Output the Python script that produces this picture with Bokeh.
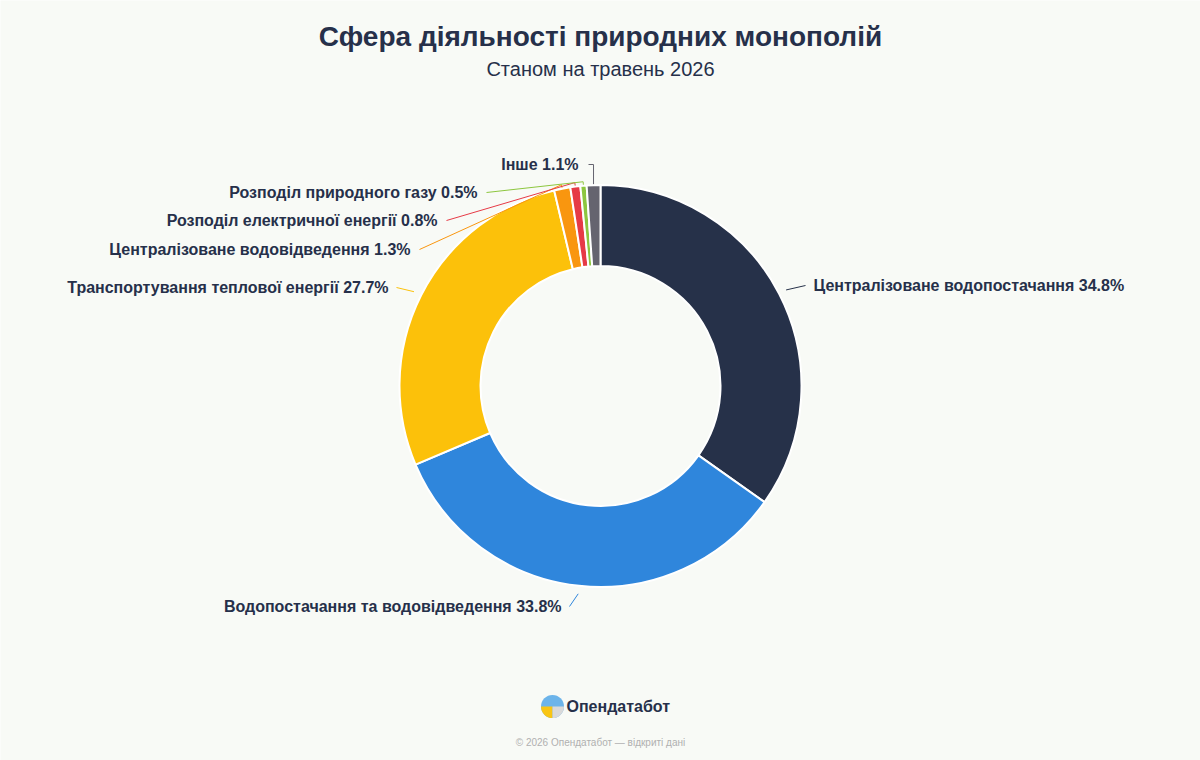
import math
from bokeh.plotting import figure
from bokeh.models import Range1d, ColumnDataSource
from bokeh.core.properties import value
from bokeh.embed import file_html
from bokeh.resources import INLINE

# ---- data ----
categories = [
    "Централізоване водопостачання",
    "Водопостачання та водовідведення",
    "Транспортування теплової енергії",
    "Централізоване водовідведення",
    "Розподіл електричної енергії",
    "Розподіл природного газу",
    "Інше",
]
shares = [34.8, 33.8, 27.7, 1.3, 0.8, 0.5, 1.1]
colors = ["#263149", "#2f86dc", "#fcc10a", "#f9960f", "#e63a46", "#8dc63f", "#65646f"]

title_text = "Сфера діяльності природних монополій"
subtitle_text = "Станом на травень 2026"
brand_text = "Опендатабот"
footer_text = "© 2026 Опендатабот — відкриті дані"

# ---- layout (pixel coordinates, top-left origin) ----
W, H = 1200, 760
CX, CY = 600, 385.5
R_OUT, R_IN = 201, 120
BG = "#f8faf6"
TEXT = "#26304a"
FONT = "Liberation Sans"

# label anchor positions and side (-1 = text to the left of the connector)
label_pos = [
    (813, 285, 1),
    (561, 606, -1),
    (388, 287, -1),
    (410, 249, -1),
    (437, 220, -1),
    (477, 192, -1),
    (578, 164, -1),
]


def Y(py):
    return H - py


p = figure(width=W, height=H, output_backend="svg", toolbar_location=None,
           x_range=Range1d(0, W), y_range=Range1d(0, H),
           x_axis_location=None, y_axis_location=None, min_border=0)
p.grid.visible = False
p.outline_line_color = None
p.background_fill_color = BG
p.border_fill_color = BG

# ---- donut ----
total = sum(shares)
starts, ends, mids = [], [], []
cum = 0.0
for v in shares:
    a0 = math.pi / 2 - 2 * math.pi * cum / total
    a1 = math.pi / 2 - 2 * math.pi * (cum + v) / total
    starts.append(a0)
    ends.append(a1)
    mids.append((a0 + a1) / 2)
    cum += v

src = ColumnDataSource(dict(x=[CX] * len(shares), y=[Y(CY)] * len(shares),
                            start=starts, end=ends, color=colors))
p.annular_wedge(x="x", y="y", inner_radius=R_IN, outer_radius=R_OUT,
                start_angle="start", end_angle="end", direction="clock",
                fill_color="color", line_color="#ffffff", line_width=2, source=src)

# ---- labels and connectors ----
for i, (cat, v) in enumerate(zip(categories, shares)):
    lx, ly, side = label_pos[i]
    m = mids[i]
    ax = CX + (R_OUT + 1) * math.cos(m)
    ay = CY - (R_OUT + 1) * math.sin(m)
    if v < 2:
        if i == len(shares) - 1:
            xs = [lx + 10, ax, ax]
            ys = [ly, ly, ay]
        else:
            ex = CX + (R_OUT + 4) * math.cos(m)
            ey = CY - (R_OUT + 4) * math.sin(m)
            xs = [lx + 9, ex, ax]
            ys = [ly, ey, ay]
    else:
        ex = CX + (R_OUT + 8) * math.cos(m)
        ey = CY - (R_OUT + 8) * math.sin(m)
        xs = [ex, lx - side * 8]
        ys = [ey, ly]
    p.line(xs, [Y(t) for t in ys], line_color=colors[i], line_width=1)
    p.text([lx], [Y(ly)], text=[f"{cat} {v}%"], text_font=value(FONT),
           text_font_size="16px", text_font_style="bold", text_color=TEXT,
           text_align="left" if side > 0 else "right", text_baseline="middle")

# ---- titles ----
p.text([W / 2], [Y(36)], text=[title_text], text_font=value(FONT), text_font_size="28px",
       text_font_style="bold", text_color=TEXT, text_align="center", text_baseline="middle")
p.text([W / 2], [Y(68)], text=[subtitle_text], text_font=value(FONT), text_font_size="20px",
       text_color=TEXT, text_align="center", text_baseline="middle")

# ---- brand ----
p.circle([552], [Y(706)], radius=11.5, fill_color="#6cb4ea", line_color=None)
p.wedge([552], [Y(706)], radius=11.5, start_angle=math.pi, end_angle=1.5 * math.pi,
        fill_color="#f9c513", line_color=None)
p.wedge([552], [Y(706)], radius=11.5, start_angle=1.5 * math.pi, end_angle=2 * math.pi,
        fill_color="#d9d9d9", line_color=None)
p.text([566], [Y(706)], text=[brand_text], text_font=value(FONT), text_font_size="16px",
       text_font_style="bold", text_color=TEXT, text_align="left", text_baseline="middle")
p.text([W / 2], [Y(742)], text=[footer_text], text_font=value(FONT), text_font_size="10px",
       text_color="#b0b0b0", text_align="center", text_baseline="middle")

open("out.html", "w").write(file_html(p, INLINE))
